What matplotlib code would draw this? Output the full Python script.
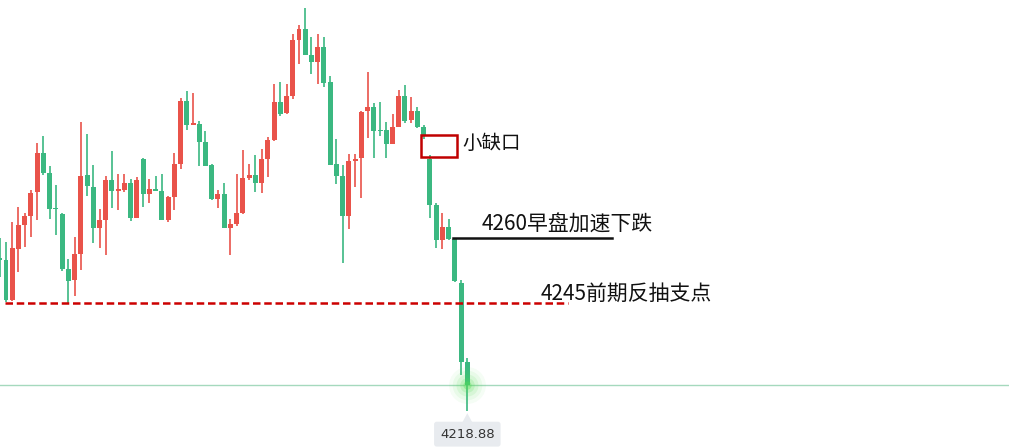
import numpy as np
import matplotlib
matplotlib.use("Agg")
import matplotlib.pyplot as plt
from matplotlib.patches import Rectangle, Polygon

plt.rcParams['font.family'] = ['Noto Sans CJK SC', 'DejaVu Sans']

# candle data (one entry per bar, left to right)
opens = [4255.0, 4254.8, 4245.2, 4257.5, 4263.1, 4265.3, 4271.0, 4280.2, 4275.5, 4267.0,
         4265.7, 4252.6, 4250.0, 4256.3, 4275.0, 4272.1, 4262.5, 4264.4, 4273.8, 4271.3,
         4271.5, 4273.1, 4264.8, 4278.8, 4270.5, 4271.7, 4271.2, 4264.3, 4269.8, 4277.7,
         4292.6, 4287.0, 4287.2, 4282.9, 4277.5, 4269.3, 4270.5, 4262.4, 4263.3, 4266.0,
         4274.3, 4275.0, 4273.1, 4278.8, 4283.3, 4292.4, 4289.8, 4293.8, 4307.1, 4309.8,
         4303.6, 4301.9, 4305.5, 4297.1, 4277.6, 4274.8, 4265.3, 4278.3, 4279.0, 4290.2,
         4291.2, 4285.6, 4285.7, 4282.5, 4286.5, 4293.8, 4288.1, 4290.2, 4286.4, 4278.8,
         4267.9, 4259.6, 4262.6, 4259.7, 4249.3, 4230.4]
highs = [4260.1, 4259.0, 4263.8, 4267.4, 4266.0, 4271.4, 4282.7, 4284.3, 4277.1, 4272.6,
         4266.0, 4255.0, 4260.3, 4287.6, 4284.8, 4277.4, 4266.9, 4274.8, 4280.7, 4275.2,
         4275.2, 4274.0, 4274.5, 4279.0, 4274.0, 4274.8, 4275.2, 4270.0, 4280.2, 4293.3,
         4295.0, 4294.5, 4287.9, 4285.5, 4277.7, 4271.4, 4273.1, 4264.5, 4275.2, 4281.0,
         4277.6, 4279.8, 4281.2, 4284.0, 4296.7, 4297.1, 4296.7, 4308.6, 4310.7, 4314.8,
         4307.9, 4308.6, 4307.9, 4298.6, 4283.6, 4277.4, 4280.0, 4280.0, 4290.2, 4299.5,
         4292.1, 4292.4, 4287.6, 4289.5, 4295.2, 4296.4, 4293.6, 4291.2, 4286.9, 4279.8,
         4268.3, 4266.0, 4264.5, 4260.1, 4250.0, 4231.5]
lows = [4250.8, 4244.8, 4245.0, 4251.9, 4257.9, 4260.3, 4264.3, 4275.1, 4264.6, 4260.8,
        4252.2, 4244.6, 4246.3, 4252.5, 4270.1, 4258.9, 4257.7, 4256.0, 4267.2, 4266.7,
        4271.0, 4264.1, 4264.7, 4267.5, 4268.4, 4271.2, 4264.2, 4263.8, 4266.7, 4276.5,
        4285.8, 4286.9, 4277.2, 4277.1, 4269.0, 4267.1, 4262.3, 4256.0, 4262.9, 4265.7,
        4273.8, 4271.0, 4270.7, 4274.5, 4283.1, 4289.0, 4289.5, 4293.1, 4301.4, 4303.5,
        4299.0, 4296.7, 4296.0, 4277.4, 4272.9, 4254.1, 4262.2, 4272.2, 4269.6, 4283.8,
        4279.1, 4284.4, 4279.1, 4282.4, 4286.4, 4287.4, 4287.4, 4286.2, 4283.6, 4264.8,
        4257.7, 4257.5, 4259.6, 4249.6, 4227.5, 4218.88]
closes = [4254.8, 4245.2, 4257.6, 4263.1, 4265.2, 4270.7, 4280.2, 4275.5, 4267.0, 4266.8,
          4252.7, 4249.8, 4256.2, 4274.8, 4272.5, 4262.5, 4264.3, 4273.8, 4271.3, 4271.5,
          4273.1, 4264.8, 4273.8, 4270.5, 4271.7, 4271.2, 4264.3, 4269.7, 4277.6, 4292.6,
          4287.0, 4287.2, 4282.9, 4277.2, 4269.3, 4270.5, 4262.4, 4263.3, 4266.0, 4274.3,
          4275.0, 4273.1, 4278.8, 4283.3, 4292.4, 4289.5, 4293.8, 4307.1, 4309.8, 4303.6,
          4301.9, 4305.5, 4296.9, 4277.5, 4274.8, 4265.3, 4278.3, 4278.8, 4290.0, 4291.2,
          4285.5, 4285.4, 4282.5, 4286.4, 4293.8, 4287.9, 4290.2, 4286.4, 4284.5, 4267.9,
          4259.6, 4262.6, 4259.8, 4249.7, 4230.5, 4225.0]

last_price = 4225.0
low_price = 4218.88
accel_level = 4260
support_level = 4244.5
gap_low, gap_high = 4279.3, 4284.5

UP = '#E9534A'
DOWN = '#3BB881'

fig = plt.figure(figsize=(10.09, 4.47), dpi=100)
ax = fig.add_axes([0, 0, 1, 1])
ax.axis('off')

x = np.arange(len(opens))
o = np.array(opens)
h = np.array(highs)
l = np.array(lows)
c = np.array(closes)
colors = np.where(c >= o, UP, DOWN)

ax.vlines(x, l, h, colors=colors, linewidth=1.2, zorder=2)
bottoms = np.minimum(o, c)
heights = np.maximum(np.abs(c - o), 0.35)
ax.bar(x, heights, bottom=bottoms, width=0.8, color=colors, linewidth=0, zorder=3)

# last price line
ax.axhline(last_price, color='#A5D9BD', linewidth=1, zorder=1)

# glow on last bar
for r, a in [(700, 0.06), (450, 0.08), (250, 0.12), (110, 0.18), (35, 0.35)]:
    ax.scatter([x[-1]], [last_price], s=r, color='#55DD55', alpha=a, linewidths=0, zorder=4)

# support line
ax.plot([0.84, 91.15], [support_level, support_level], color='#CC0000', linewidth=1.8,
        linestyle=(0, (3, 1.5)), zorder=5)

# acceleration line
ax.plot([72.7, 98.2], [accel_level, accel_level], color='#111111', linewidth=1.8, zorder=5)

# gap box
ax.add_patch(Rectangle((67.52, gap_low), 5.87, gap_high - gap_low, fill=False,
                       edgecolor='#C00000', linewidth=1.8, zorder=5))

ax.text(74.15, 4282.4, '小缺口', fontsize=14, va='center', ha='left', color='#111111')
ax.text(77.36, 4263.1, '4260早盘加速下跌', fontsize=15, va='center', ha='left', color='#111111')
ax.text(86.82, 4246.7, '4245前期反抽支点', fontsize=15, va='center', ha='left', color='#111111')

# low label with pointer
ax.add_patch(Polygon([[x[-1], 4218.3], [x[-1] - 0.8, 4216.1], [x[-1] + 0.8, 4216.1]],
                     closed=True, facecolor='#E8EBEF', edgecolor='none', zorder=5))
ax.text(x[-1], 4213.3, f'{low_price:.2f}', fontsize=9.5, ha='center', va='center',
        color='#333333', family=['DejaVu Sans'], zorder=6,
        bbox=dict(boxstyle='round,pad=0.45,rounding_size=0.2', fc='#E8EBEF', ec='none'))

ax.set_xlim(0.0375, 161.89)
ax.set_ylim(4210.24, 4316.67)

fig.savefig('out.png', dpi=100)
